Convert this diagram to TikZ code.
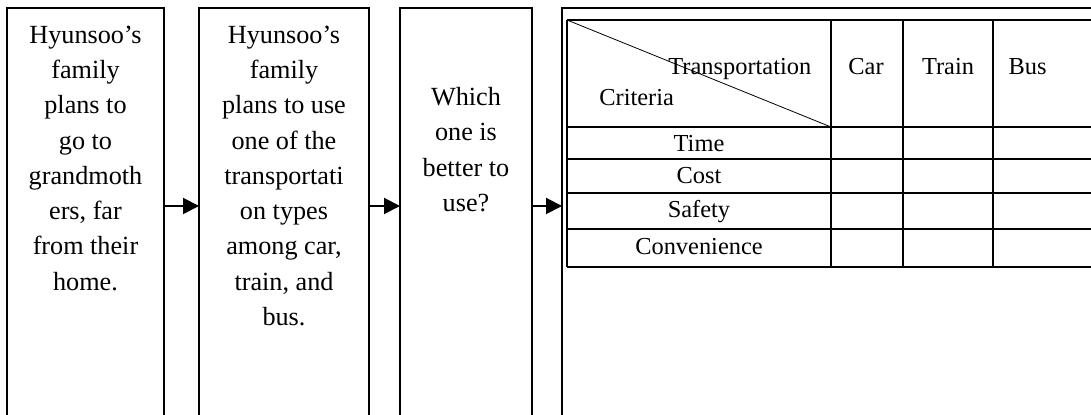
\documentclass[tikz,border=0pt]{standalone}
\usepackage{fontspec}
\setmainfont{Liberation Serif}
\usetikzlibrary{arrows.meta,positioning}

\begin{document}
\begin{tikzpicture}[x=0.5pt,y=-0.5pt,
  stage/.style={draw,line width=1pt,anchor=north west,inner sep=0pt,outer sep=0pt,minimum height=226pt},
  say/.style={align=center,anchor=north,inner sep=0pt,font=\fontsize{13.1}{17.65}\selectfont},
  cell/.style={inner sep=0pt,font=\fontsize{12.2}{15.5}\selectfont},
  arr/.style={-{Triangle[length=8pt,width=8pt]},line width=1pt},
  rule/.style={line width=1pt}]

\useasboundingbox (0,0) rectangle (1091,415);
\clip (0,0) rectangle (1091,415);

% four stages
\node[stage,minimum width=78.5pt] (plan) at (7,8) {};
\node[stage,minimum width=85pt] (types) at (199,8) {};
\node[stage,minimum width=66pt] (ask) at (400,8) {};
\node[stage,minimum width=279pt] (tab) at (562,8) {};

\node[say] (t1) at (85.5,25.3) {Hyunsoo’s\\family\\plans to\\go to\\grandmoth\\ers, far\\from their\\home.};
\node[say] (t2) at (284,25.3) {Hyunsoo’s\\family\\plans to use\\one of the\\transportati\\on types\\among car,\\train, and\\bus.};
\node[say] (t3) at (466,87.1) {Which\\one is\\better to\\use?};

\coordinate (row) at (0,206);
\draw[arr] (plan.east |- row) -- (types.west |- row);
\draw[arr] (types.east |- row) -- (ask.west |- row);
\draw[arr] (ask.east |- row) -- (tab.west |- row);

% comparison table
\foreach \y in {20,127,159,193,229,267}
  \draw[rule] (567,\y) -- (1110,\y);
\foreach \x in {567,831,903,993}
  \draw[rule] (\x,20) -- (\x,267);
\draw[line width=0.4pt] (567,20) -- (831,127);

\node[cell,anchor=base west] (mode) at (668,75) {Transportation};
\node[cell,anchor=base west] (crit) at (599,106) {Criteria};
\node[cell,anchor=base] (car) at (866,75) {Car};
\node[cell,anchor=base] (train) at (948,75) {Train};
\node[cell,anchor=base] (bus) at (1027.5,75) {Bus};
\node[cell,anchor=base] (time) at (699,152) {Time};
\node[cell,anchor=base] (cost) at (699,184) {Cost};
\node[cell,anchor=base] (safe) at (699,218) {Safety};
\node[cell,anchor=base] (conv) at (699,255) {Convenience};
\end{tikzpicture}
\end{document}
